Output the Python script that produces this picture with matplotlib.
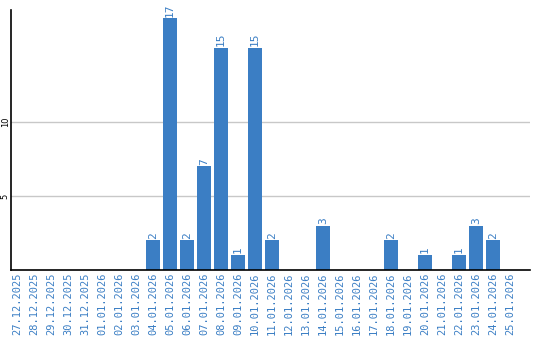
import matplotlib.pyplot as plt

dates = ["27.12.2025", "28.12.2025", "29.12.2025", "30.12.2025", "31.12.2025",
         "01.01.2026", "02.01.2026", "03.01.2026", "04.01.2026", "05.01.2026",
         "06.01.2026", "07.01.2026", "08.01.2026", "09.01.2026", "10.01.2026",
         "11.01.2026", "12.01.2026", "13.01.2026", "14.01.2026", "15.01.2026",
         "16.01.2026", "17.01.2026", "18.01.2026", "19.01.2026", "20.01.2026",
         "21.01.2026", "22.01.2026", "23.01.2026", "24.01.2026", "25.01.2026"]
counts = [0, 0, 0, 0, 0, 0, 0, 0, 2, 17, 2, 7, 15, 1, 15, 2, 0, 0, 3, 0,
          0, 0, 2, 0, 1, 0, 1, 3, 2, 0]
yticks = [5, 10]

blue = "#3b7ec4"

fig = plt.figure(figsize=(5.4, 3.4), dpi=100)
ax = fig.add_axes([0.0204, 0.2059, 0.9611, 0.7647])

x = list(range(len(dates)))
ax.bar(x, counts, width=0.82, color=blue, zorder=2)

# value labels above the bars
for i, v in zip(x, counts):
    if v > 0:
        ax.text(i, v + 0.12, str(v), rotation=90, ha="center", va="bottom",
                color=blue, fontsize=8, family="DejaVu Sans Mono")

ax.set_xlim(-0.35, 30.18)
ax.set_ylim(0, 17.57)
ax.set_xticks(x)
ax.set_xticklabels(dates, rotation=90, color=blue, fontsize=7.5,
                   family="DejaVu Sans Mono")
ax.set_yticks(yticks)
ax.set_yticklabels([str(t) for t in yticks], rotation=90, fontsize=6,
                   va="center")
ax.tick_params(axis="x", length=0, pad=2)
ax.tick_params(axis="y", length=0, pad=1)
ax.yaxis.grid(True, color="#c8c8c8", linewidth=1, zorder=0)

for side in ["top", "right"]:
    ax.spines[side].set_visible(False)
ax.spines["left"].set_linewidth(1.2)
ax.spines["bottom"].set_linewidth(1.2)

fig.savefig("out.png", dpi=100)
